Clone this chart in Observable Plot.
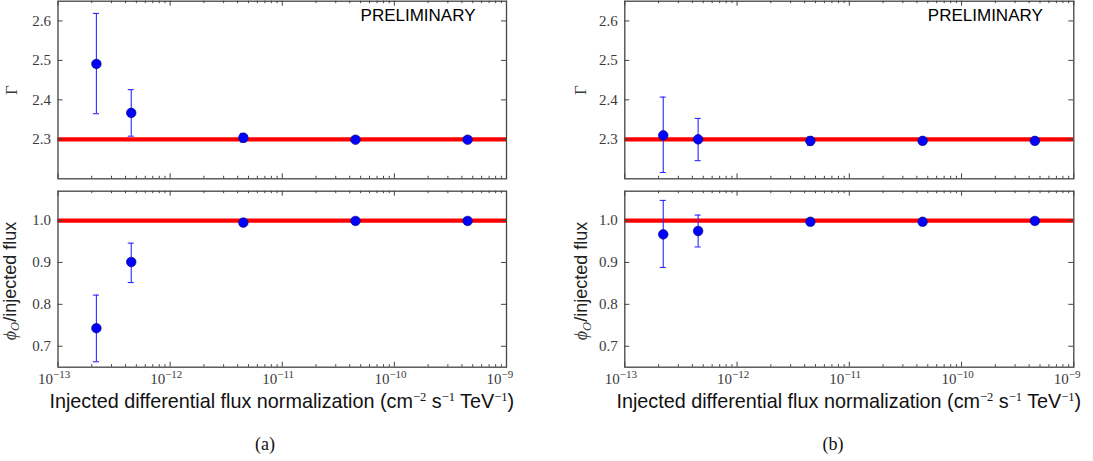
<!DOCTYPE html>
<html><head><meta charset="utf-8">
<script src="https://cdn.jsdelivr.net/npm/d3@7"></script>
<script src="https://cdn.jsdelivr.net/npm/@observablehq/plot@0.6"></script>
<style>
body{margin:0;background:#fff;}
#root{position:relative;width:1093px;height:461px;overflow:hidden;background:#fff;}
#root > svg{position:absolute;}
#root text.serif{font-family:"Liberation Serif","Times New Roman",serif !important;}
#root text.sans{font-family:"Liberation Sans",Arial,sans-serif !important;}
</style></head><body><div id="root"></div>
<script>
// ---- data ----
const injectedFlux = [2.2e-13, 4.5e-13, 4.5e-12, 4.5e-11, 4.5e-10];
// panel (a)
const gammaA   = [2.491, 2.367, 2.304, 2.299, 2.299];
const gammaALo = [2.365, 2.308, 2.293, 2.296, 2.296];
const gammaAHi = [2.619, 2.426, 2.315, 2.302, 2.302];
const ratioA   = [0.743, 0.901, 0.995, 0.999, 0.999];
const ratioALo = [0.663, 0.852, 0.987, 0.997, 0.997];
const ratioAHi = [0.822, 0.946, 1.003, 1.001, 1.001];
// panel (b)
const gammaB   = [2.310, 2.300, 2.296, 2.296, 2.296];
const gammaBLo = [2.216, 2.246, 2.285, 2.293, 2.293];
const gammaBHi = [2.407, 2.353, 2.306, 2.299, 2.299];
const ratioB   = [0.967, 0.975, 0.997, 0.997, 0.999];
const ratioBLo = [0.888, 0.937, 0.993, 0.995, 0.997];
const ratioBHi = [1.048, 1.013, 1.001, 0.999, 1.001];
// injected (true) values
const injectedGamma = [2.3];
const injectedRatio = [1.0];
// axes
const xDomain = [1e-13, 1e-9];
const xMajorTicks = [1e-13, 1e-12, 1e-11, 1e-10, 1e-9];
const xExponents = ["\u221213", "\u221212", "\u221211", "\u221210", "\u22129"];
const gammaDomain = [2.2, 2.65];
const gammaTicks = [2.3, 2.4, 2.5, 2.6];
const ratioDomain = [0.65, 1.07];
const ratioTicks = [0.7, 0.8, 0.9, 1.0];
const stampText = "PRELIMINARY";

// minor log ticks (2..9 x 10^k)
const xMinorTicks = [];
for (let k = 0; k < xMajorTicks.length - 1; k++) for (let m = 2; m <= 9; m++) xMinorTicks.push(m * xMajorTicks[k]);

const root = document.getElementById("root");
const FRAME = "#444";
const LABEL = "#3a3a3a";
const SERIF = "Liberation Serif, Times New Roman, serif";
const SANS = "Liberation Sans, Arial, sans-serif";

function panel({left, top, width, height, mL, mR, mT, mB, yDomain, yTicks, refVal, vals, lo, hi, xLabels, stamp}) {
  const fw = width - mL - mR, fh = height - mT - mB;
  const rows = injectedFlux.map((x, i) => ({x, v: vals[i], lo: lo[i], hi: hi[i]}));
  const tickStyle = {stroke: FRAME, strokeWidth: 1};
  const marks = [
    Plot.ruleY(refVal, {y: d => d, stroke: "#ff0000", strokeWidth: 4.2}),
    Plot.ruleX(rows, {x: "x", y1: "lo", y2: "hi", stroke: "#2a2aff", strokeWidth: 1.1}),
    Plot.ruleY(rows, {y: "lo", x1: "x", x2: "x", insetLeft: -3, insetRight: -3, stroke: "#2a2aff", strokeWidth: 1.1}),
    Plot.ruleY(rows, {y: "hi", x1: "x", x2: "x", insetLeft: -3, insetRight: -3, stroke: "#2a2aff", strokeWidth: 1.1}),
    Plot.dot(rows, {x: "x", y: "v", r: 4.8, fill: "#0000ff", stroke: "#00006a", strokeWidth: 0.6}),
    // inward ticks: x major/minor at bottom and top
    Plot.ruleX(xMajorTicks, {x: d => d, insetTop: fh - 5, ...tickStyle}),
    Plot.ruleX(xMajorTicks, {x: d => d, insetBottom: fh - 5, ...tickStyle}),
    Plot.ruleX(xMinorTicks, {x: d => d, insetTop: fh - 2.5, ...tickStyle}),
    Plot.ruleX(xMinorTicks, {x: d => d, insetBottom: fh - 2.5, ...tickStyle}),
    // inward ticks: y left and right
    Plot.ruleY(yTicks, {y: d => d, insetRight: fw - 5, ...tickStyle}),
    Plot.ruleY(yTicks, {y: d => d, insetLeft: fw - 5, ...tickStyle}),
    Plot.axisY(yTicks, {tickSize: 0, tickPadding: 7, tickFormat: d3.format(".1f"), fontSize: 15, fontFamily: SERIF, fill: LABEL, label: null}),
    Plot.frame({stroke: FRAME, strokeWidth: 1.3})
  ];
  if (xLabels) {
    marks.push(
      Plot.text(xMajorTicks, {x: d => d, frameAnchor: "bottom", text: () => "10", textAnchor: "end", lineAnchor: "bottom", dx: -5, dy: 16.6, fontSize: 15, fontFamily: SERIF, fill: LABEL}),
      Plot.text(xMajorTicks, {x: d => d, frameAnchor: "bottom", text: (d, i) => xExponents[i], textAnchor: "start", lineAnchor: "bottom", dx: -5, dy: 11, fontSize: 11, fontFamily: SERIF, fill: LABEL})
    );
  }
  if (stamp) {
    marks.push(Plot.text([stampText], {text: d => d, frameAnchor: "top-right", textAnchor: "end", lineAnchor: "bottom", dx: -31, dy: 19.3, fontSize: 17, fontFamily: SANS, fill: "#000"}));
  }
  const p = Plot.plot({
    width, height, marginLeft: mL, marginRight: mR, marginTop: mT, marginBottom: mB,
    x: {type: "log", domain: xDomain, axis: null},
    y: {domain: yDomain},
    style: {background: "transparent", overflow: "visible"},
    marks
  });
  p.querySelectorAll("text").forEach(t => {
    t.classList.add(t.textContent === stampText ? "sans" : "serif");
  });
  p.style.left = left + "px";
  p.style.top = top + "px";
  root.appendChild(p);
}

// left column (a)
panel({left: 0, top: 0, width: 520, height: 181, mL: 57.5, mR: 14, mT: 0.7, mB: 2.7,
  yDomain: gammaDomain, yTicks: gammaTicks, refVal: injectedGamma, vals: gammaA, lo: gammaALo, hi: gammaAHi, stamp: true});
panel({left: 0, top: 185, width: 520, height: 215, mL: 57.5, mR: 14, mT: 5.7, mB: 33.3,
  yDomain: ratioDomain, yTicks: ratioTicks, refVal: injectedRatio, vals: ratioA, lo: ratioALo, hi: ratioAHi, xLabels: true});
// right column (b)
panel({left: 560, top: 0, width: 520, height: 181, mL: 64.3, mR: 6.7, mT: 0.7, mB: 2.7,
  yDomain: gammaDomain, yTicks: gammaTicks, refVal: injectedGamma, vals: gammaB, lo: gammaBLo, hi: gammaBHi, stamp: true});
panel({left: 560, top: 185, width: 520, height: 215, mL: 64.3, mR: 6.7, mT: 5.7, mB: 33.3,
  yDomain: ratioDomain, yTicks: ratioTicks, refVal: injectedRatio, vals: ratioB, lo: ratioBLo, hi: ratioBHi, xLabels: true});

// ---- text labels (axis titles, sub-captions) ----
const svg = d3.select(root).append("svg")
  .attr("width", 1093).attr("height", 461)
  .style("left", "0px").style("top", "0px").style("pointer-events", "none");

function gammaLabel(x, y) {
  svg.append("text").attr("class", "serif").attr("transform", `translate(${x},${y}) rotate(-90)`)
    .attr("text-anchor", "middle").attr("font-family", SERIF).attr("font-size", 17).attr("fill", LABEL)
    .text("\u0393");
}
function ratioLabel(x, y) {
  const t = svg.append("text").attr("transform", `translate(${x},${y}) rotate(-90)`)
    .attr("text-anchor", "middle").attr("fill", "#222");
  t.append("tspan").attr("font-family", SERIF).attr("font-style", "italic").attr("font-size", 18).attr("fill", LABEL).text("\u03d5");
  t.append("tspan").attr("font-family", SERIF).attr("font-style", "italic").attr("font-size", 12.5).attr("fill", LABEL).attr("dy", 3.5).text("O");
  t.append("tspan").attr("font-family", SANS).attr("font-size", 18).attr("dy", -3.5).text("/injected flux");
}
function xLabel(cx, baseline) {
  const t = svg.append("text").attr("x", cx).attr("y", baseline).attr("text-anchor", "middle")
    .attr("font-family", SANS).attr("font-size", 19.8).attr("fill", "#111");
  const sup = s => t.append("tspan").attr("font-family", SERIF).attr("font-size", 12.5).attr("dy", -7.5).text(s);
  const norm = s => t.append("tspan").attr("dy", 7.5).text(s);
  t.append("tspan").text("Injected differential flux normalization (cm");
  sup("\u22122"); norm(" s"); sup("\u22121"); norm(" TeV"); sup("\u22121"); norm(")");
}
function caption(cx, baseline, s) {
  svg.append("text").attr("class", "serif").attr("x", cx).attr("y", baseline).attr("text-anchor", "middle")
    .attr("font-family", SERIF).attr("font-size", 18).attr("fill", "#111").text(s);
}

gammaLabel(16.5, 90); gammaLabel(586, 90);
ratioLabel(15.5, 281); ratioLabel(587, 281);
xLabel(281.75, 408.3); xLabel(848.8, 408.3);
caption(265, 449.5, "(a)"); caption(833, 449.5, "(b)");
</script></body></html>
